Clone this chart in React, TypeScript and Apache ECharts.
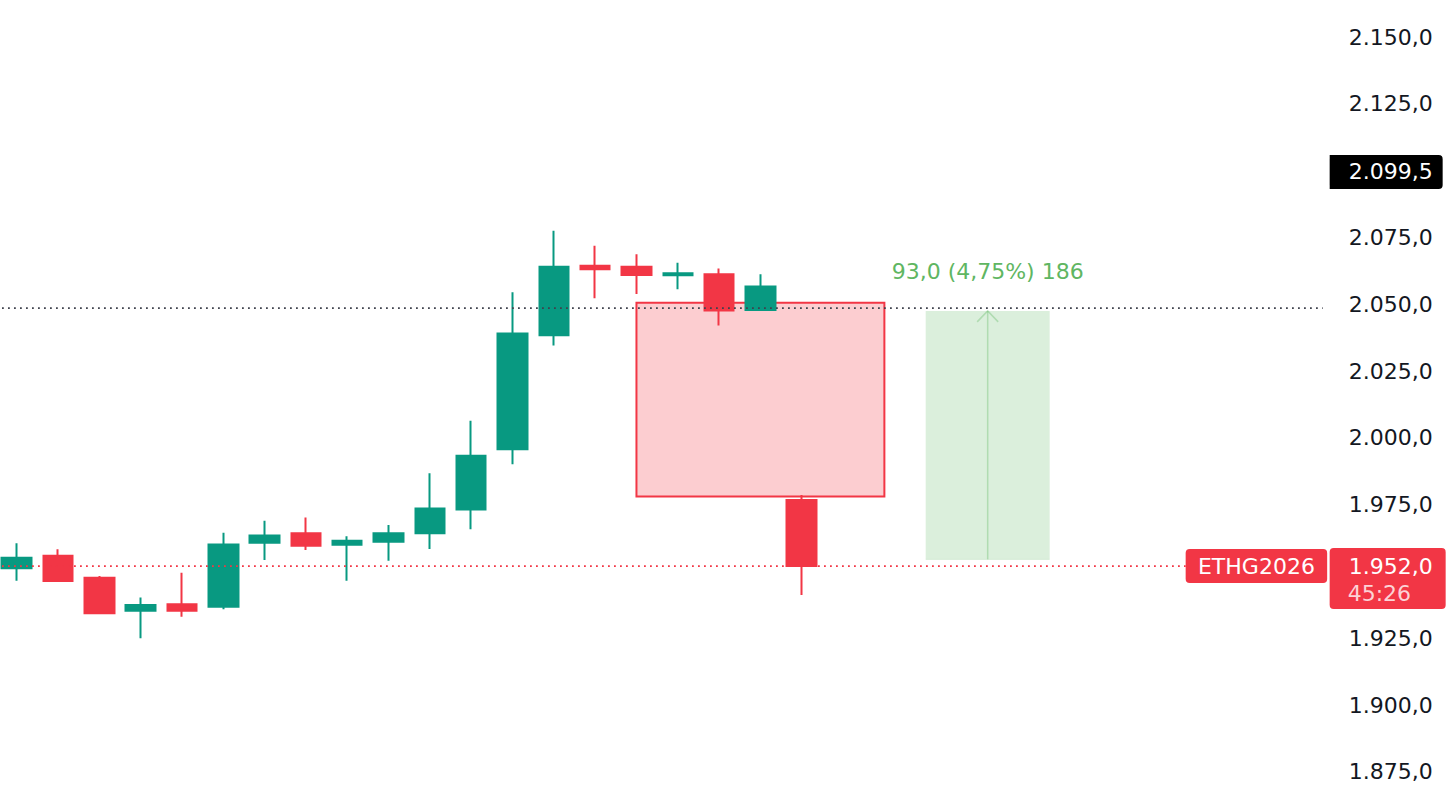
import React, { useEffect, useRef } from "react";
import * as echarts from "echarts";

// Time slots on the x axis: 20 traded candles followed by empty space to the right
const slotCount = 32;
const categories = Array.from({ length: slotCount }, (_, i) => `S${i + 1}`);

// OHLC values per candle
const opens = [1951.2, 1955.9, 1947.6, 1935.3, 1937.7, 1936.8, 1960.7, 1964.3, 1960.0, 1961.1, 1964.3, 1973.2, 1995.7, 2038.4, 2064.4, 2064.0, 2060.8, 2061.2, 2047.8, 1976.7];
const closes = [1955.1, 1946.4, 1934.3, 1937.4, 1935.3, 1960.1, 1963.4, 1959.6, 1961.5, 1964.3, 1973.5, 1993.3, 2039.0, 2064.0, 2063.1, 2060.9, 2061.6, 2047.6, 2056.6, 1952.0];
const lows = [1946.5, 1946.2, 1934.0, 1925.0, 1933.0, 1935.8, 1954.3, 1958.0, 1946.5, 1954.0, 1958.4, 1965.8, 1990.1, 2034.5, 2052.2, 2053.8, 2055.6, 2042.0, 2047.5, 1941.2];
const highs = [1960.5, 1958.3, 1948.3, 1940.2, 1949.5, 1964.5, 1969.0, 1970.2, 1963.2, 1967.4, 1986.7, 2006.4, 2054.5, 2077.5, 2071.9, 2068.7, 2065.5, 2063.4, 2061.2, 1978.6];

// Price scale
const priceMin = 1875;
const priceMax = 2150;
const priceStep = 25;
const hiddenTicks = [2100, 1950];

// Drawn rectangle: [from slot, to slot, low, high]
const zoneBox = [15, 21, 1978.0, 2050.5];
// Price range measurement: [from slot, to slot, low, high]
const rangeBox = [22, 25, 1954.5, 2047.5];
const rangeText = "93,0 (4,75%) 186";

// Horizontal levels
const refLevel = 2048.5;
const lastPrice = 1952.0;
const markerLevel = 2099.5;
const symbolName = "ETHG2026";
const countdown = "45:26";

const UP = "#089981";
const DOWN = "#f23645";
const FONT = "'DejaVu Sans', Inter, sans-serif";

const fmt = (v: number) => {
  const [i, d] = v.toFixed(1).split(".");
  return i.replace(/\B(?=(\d{3})+(?!\d))/g, ".") + "," + d;
};

// The chart canvas starts slightly left of the page so that the first slot is partly cut off
const SHIFT = 3.66;

export default function App() {
  const ref = useRef<HTMLDivElement>(null);

  useEffect(() => {
    if (!ref.current) return;
    const chart = echarts.init(ref.current, undefined, { renderer: "svg" });

    const slot = 41.32;
    const gridWidth = slotCount * slot;
    const px = (x: number) => x + SHIFT; // page x -> chart x
    const labelRight = px(1433);
    const tagLeft = px(1330);

    const xAt = (api: any, pos: number, v: number) => {
      const i = Math.floor(pos);
      const a = api.coord([i, v])[0];
      const b = api.coord([i + 1, v])[0];
      return a + (pos - i) * (b - a);
    };

    const candleData = opens.map((o, i) => [o, closes[i], lows[i], highs[i]]);

    const option: any = {
      animation: false,
      backgroundColor: "#ffffff",
      grid: { left: 0, top: 37, width: gridWidth, height: 734.8 },
      xAxis: {
        type: "category",
        data: categories,
        show: false,
        boundaryGap: true,
      },
      yAxis: {
        type: "value",
        position: "right",
        min: priceMin,
        max: priceMax,
        interval: priceStep,
        axisLine: { show: false },
        axisTick: { show: false },
        splitLine: { show: false },
        axisLabel: {
          align: "right",
          margin: labelRight - gridWidth,
          color: "#131722",
          fontFamily: FONT,
          fontSize: 22,
          formatter: (v: number) => (hiddenTicks.includes(v) ? "" : fmt(v)),
        },
      },
      series: [
        {
          type: "custom",
          z: 1,
          silent: true,
          data: [[0, priceMin]],
          renderItem: (params: any, api: any) => {
            const zx0 = xAt(api, zoneBox[0], zoneBox[3]);
            const zx1 = xAt(api, zoneBox[1], zoneBox[3]);
            const zy0 = api.coord([0, zoneBox[3]])[1];
            const zy1 = api.coord([0, zoneBox[2]])[1];
            const rx0 = xAt(api, rangeBox[0], rangeBox[3]);
            const rx1 = xAt(api, rangeBox[1], rangeBox[3]);
            const ry0 = api.coord([0, rangeBox[3]])[1];
            const ry1 = api.coord([0, rangeBox[2]])[1];
            const mx = (rx0 + rx1) / 2;
            return {
              type: "group",
              children: [
                {
                  type: "rect",
                  shape: { x: zx0, y: zy0, width: zx1 - zx0, height: zy1 - zy0 },
                  style: { fill: "rgba(242,54,69,0.25)", stroke: DOWN, lineWidth: 2 },
                },
                {
                  type: "rect",
                  shape: { x: rx0, y: ry0, width: rx1 - rx0, height: ry1 - ry0 },
                  style: { fill: "rgba(76,175,80,0.2)" },
                },
                {
                  type: "line",
                  shape: { x1: rx0, y1: ry1, x2: rx1, y2: ry1 },
                  style: { stroke: "rgba(76,175,80,0.12)", lineWidth: 1 },
                },
                {
                  type: "line",
                  shape: { x1: mx, y1: ry1, x2: mx, y2: ry0 },
                  style: { stroke: "rgba(76,175,80,0.3)", lineWidth: 1.5 },
                },
                {
                  type: "polyline",
                  shape: { points: [[mx - 10.5, ry0 + 11], [mx, ry0], [mx + 10.5, ry0 + 11]] },
                  style: { stroke: "rgba(76,175,80,0.3)", lineWidth: 1.5, fill: "none" },
                },
                {
                  type: "text",
                  x: mx,
                  y: ry0 - 39,
                  style: {
                    text: rangeText,
                    fill: "#5fb662",
                    fontFamily: FONT,
                    fontSize: 22,
                    align: "center",
                    verticalAlign: "middle",
                  },
                },
              ],
            };
          },
        },
        {
          type: "candlestick",
          z: 3,
          barWidth: 30,
          data: candleData,
          itemStyle: {
            color: UP,
            color0: DOWN,
            borderColor: UP,
            borderColor0: DOWN,
            borderWidth: 2,
          },
        },
        {
          type: "custom",
          z: 5,
          silent: true,
          clip: false,
          data: [[0, priceMin]],
          renderItem: (params: any, api: any) => {
            const left = params.coordSys.x;
            const yRef = api.coord([0, refLevel])[1];
            const yLast = api.coord([0, lastPrice])[1];
            const yMark = api.coord([0, markerLevel])[1];
            const textStyle = (text: string, fill: string, align: string) => ({
              text,
              fill,
              fontFamily: FONT,
              fontSize: 22,
              align,
              verticalAlign: "middle",
            });
            const tagX = px(1186);
            return {
              type: "group",
              children: [
                {
                  type: "line",
                  shape: { x1: left, y1: yRef, x2: px(1323), y2: yRef },
                  style: { stroke: "#3f424d", lineWidth: 1.8, lineDash: [1.8, 4.2] },
                },
                {
                  type: "line",
                  shape: { x1: left, y1: yLast, x2: tagX, y2: yLast },
                  style: { stroke: DOWN, lineWidth: 1.8, lineDash: [1.8, 4.2] },
                },
                // symbol tag on the last price line
                {
                  type: "rect",
                  shape: { x: tagX, y: yLast - 17, width: 141.5, height: 34, r: 4 },
                  style: { fill: DOWN },
                },
                {
                  type: "text",
                  x: tagX + 141.5 / 2,
                  y: yLast,
                  style: textStyle(symbolName, "#ffffff", "center"),
                },
                // last price with countdown
                {
                  type: "rect",
                  shape: { x: tagLeft, y: yLast - 18, width: 116, height: 61, r: 4 },
                  style: { fill: DOWN },
                },
                {
                  type: "text",
                  x: labelRight,
                  y: yLast,
                  style: textStyle(fmt(lastPrice), "#ffffff", "right"),
                },
                {
                  type: "text",
                  x: px(1348),
                  y: yLast + 27,
                  style: textStyle(countdown, "rgba(255,255,255,0.78)", "left"),
                },
                // crosshair price marker
                {
                  type: "rect",
                  shape: { x: tagLeft, y: yMark - 17, width: 113, height: 34, r: [0, 4, 4, 0] },
                  style: { fill: "#000000" },
                },
                {
                  type: "text",
                  x: labelRight,
                  y: yMark,
                  style: textStyle(fmt(markerLevel), "#ffffff", "right"),
                },
              ],
            };
          },
        },
      ],
    };

    chart.setOption(option);
    return () => chart.dispose();
  }, []);

  return (
    <div
      ref={ref}
      style={{
        position: "fixed",
        left: -SHIFT,
        top: 0,
        width: 1450 + SHIFT,
        height: 790,
        background: "#fff",
      }}
    />
  );
}
